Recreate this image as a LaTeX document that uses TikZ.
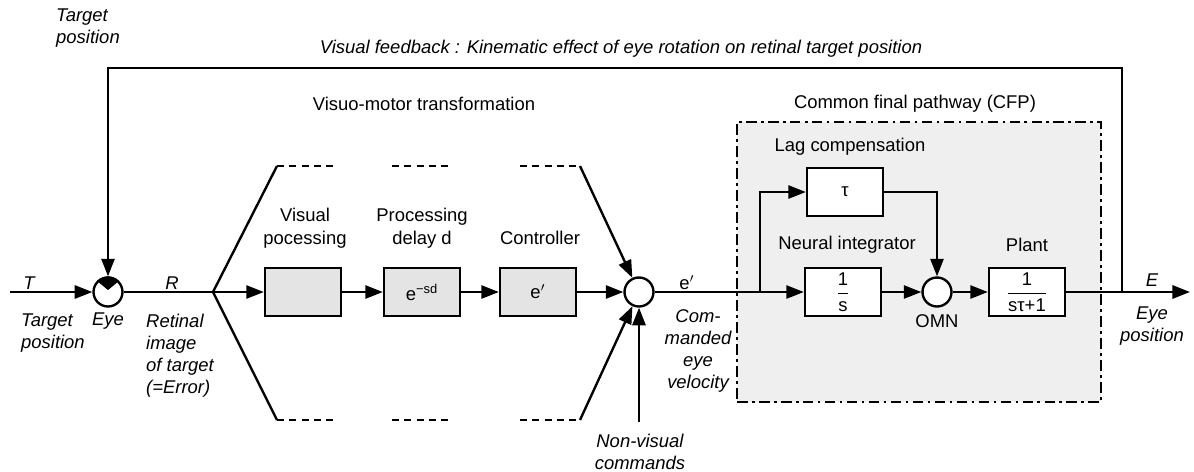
\documentclass[tikz,border=0pt]{standalone}
\usepackage{amsmath}
\usepackage{fontspec}
\setmainfont{Liberation Sans}
\usetikzlibrary{arrows.meta,calc,positioning}
\definecolor{BlockGray}{RGB}{228,228,228}
\definecolor{PathwayGray}{RGB}{239,239,239}
\newcommand{\blockfrac}[2]{$\dfrac{\text{#1}}{\text{#2}}$}

\begin{document}
\begin{tikzpicture}[x=0.02cm, y=-0.02cm, >={Triangle[length=10pt,width=7.5pt]}, line width=1.35pt, font=\fontsize{10.5}{13}\selectfont]
    \tikzstyle{blk}=[draw, line width=1.35pt, minimum width=1.52cm, minimum height=0.96cm, fill=BlockGray, align=center, inner sep=1pt]
    \tikzstyle{wblk}=[blk, fill=white]
    \tikzstyle{junc}=[draw, circle, line width=1.35pt, minimum size=0.58cm, inner sep=0pt, fill=white]
    \tikzstyle{lbl}=[align=center, inner sep=0pt]
    \tikzstyle{ilbl}=[lbl, font=\fontsize{10.5}{12.5}\selectfont\itshape]
    \tikzstyle{dashpart}=[dash pattern=on 4pt off 3pt]
    \useasboundingbox (0,0) rectangle (1194,471);

    % common final pathway region
    \node[draw, line width=1.2pt, dash pattern=on 6pt off 2.5pt on 1.5pt off 2.5pt, fill=PathwayGray, minimum width=7.28cm, minimum height=5.6cm] (cfp) at (919,262) {};

    \node[junc] (eye) at (108,292) {};
    \fill ($(eye.center)+(0,-2)$) -- (eye.45) -- (eye.60) -- (eye.75) -- (eye.90) -- (eye.105) -- (eye.120) -- (eye.135) -- cycle;
    \node[blk] (vproc) at (303,292) {};
    \node[blk] (delay) at (422,292) {e\textsuperscript{−sd}};
    \node[blk] (ctrl) at (538,292) {e$'$};
    \node[junc] (sum) at (639,292) {};
    \node[wblk] (lag) at (845,192) {τ};
    \node[wblk] (integ) at (843,292) {\blockfrac{1}{s}};
    \node[junc] (omn) at (937,292) {};
    \node[wblk] (plant) at (1027,292) {\blockfrac{1}{sτ+1}};

    \coordinate (start) at (10,292);
    \coordinate (split) at (213,292);
    \coordinate (up1) at (277,166);
    \coordinate (low1) at (277,420);
    \coordinate (up2) at (580,166);
    \coordinate (low2) at (580,420);
    \coordinate (nv) at (639,422);
    \coordinate (tap) at (760,292);
    \coordinate (out) at (1122,292);
    \coordinate (finish) at (1190,292);
    \coordinate (fbl) at (108,68);

    % visual loop
    \draw[->] (start) -- (eye);
    \draw (eye) -- (split);
    \draw[->] (split) -- (vproc);
    \draw[->] (vproc) -- (delay);
    \draw[->] (delay) -- (ctrl);
    \draw[->] (ctrl) -- (sum);
    \draw (up1) -- (split) -- (low1);
    \foreach \y in {166,420}
        \foreach \x in {277,392,520}
            \draw[dashpart] (\x,\y) -- ++(60,0);
    \draw[->] (up2) -- (sum);
    \draw[->] (low2) -- (sum);
    \draw[->] (nv) -- (sum);

    % final pathway
    \draw (sum) -- (tap);
    \draw[->] (tap) -- (integ);
    \draw[->] (tap) |- (lag);
    \draw[->] (lag) -| (omn);
    \draw[->] (integ) -- (omn);
    \draw[->] (omn) -- (plant);
    \draw (plant) -- (out);
    \draw[->] (out) -- (finish);
    \draw[->] (out) |- (fbl) -- (eye);

    % labels
    \node[ilbl, align=left, anchor=west] (tgttop) at (55,28) {Target\\position};
    \node[ilbl] (fblbl) at (621,49) {Visual feedback : Kinematic effect of eye rotation on retinal target position};
    \node[ilbl] (tlbl) at (29,283) {T};
    \node[ilbl] (rlbl) at (172,283) {R};
    \node[ilbl, align=left, anchor=west] (tgtlbl) at (20,333) {Target\\position};
    \node[ilbl] (eyelbl) at (108,321) {Eye};
    \node[ilbl, align=left, anchor=west] (retlbl) at (145,356) {Retinal\\image\\of target\\(=Error)};
    \node[lbl] (vmlbl) at (424,104) {Visuo-motor transformation};
    \node[lbl] (vproclbl) at (305,228) {Visual\\pocessing};
    \node[lbl] (delaylbl) at (422,228) {Processing\\delay d};
    \node[lbl] (ctrllbl) at (540,238) {Controller};
    \node[ilbl] (nvlbl) at (640,452) {Non-visual\\commands};
    \node[lbl] (eplbl) at (687,283) {e$'$};
    \node[ilbl] (cmdlbl) at (698,351) {Com-\\manded\\eye\\velocity};
    \node[lbl] (cfplbl) at (915,104) {Common final pathway (CFP)};
    \node[lbl] (laglbl) at (850,147) {Lag compensation};
    \node[lbl] (integlbl) at (847,245) {Neural integrator};
    \node[lbl] (plantlbl) at (1027,245) {Plant};
    \node[lbl, below=0.42cm of omn.center] (omnlbl) {OMN};
    \node[ilbl] (elbl) at (1152,280) {E};
    \node[ilbl] (eposlbl) at (1152,326) {Eye\\position};
\end{tikzpicture}
\end{document}
